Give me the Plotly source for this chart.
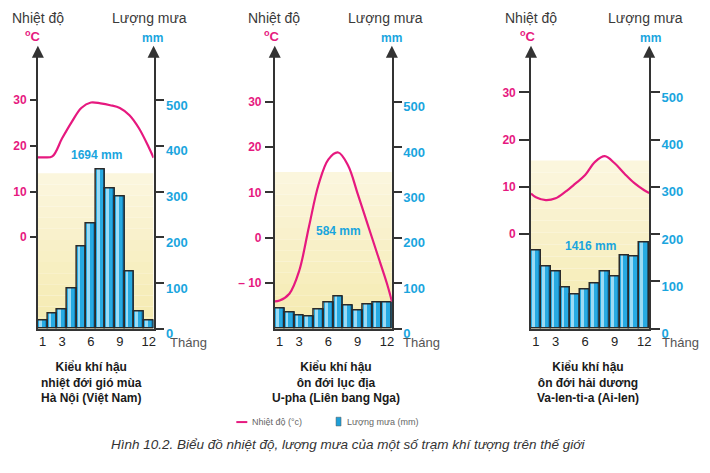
import plotly.graph_objects as go

# Months (bars) and the points
months = list(range(1, 13))
temp_months = [0.5] + months + [12.5]
month_ticks = [1, 3, 6, 9, 12]

# Ha Noi (Viet Nam)
hanoi_rain = [18, 33, 43, 87, 180, 231, 349, 306, 290, 125, 38, 18]
hanoi_temp = [17.5, 17.5, 17.7, 21.6, 25.2, 28.3, 29.5, 29.3, 28.9, 28.3, 26.7, 23.8, 19.7, 17.4]

# U-pha (Lien bang Nga)
ufa_rain = [44, 35, 29, 28, 42, 58, 70, 51, 41, 54, 58, 58]
ufa_temp = [-14.0, -13.8, -12.3, -7.3, 2.4, 11.8, 17.3, 18.8, 16.0, 9.7, 3.1, -3.5, -10.1, -14.0]

# Va-len-ti-a (Ai-len)
valentia_rain = [166, 132, 121, 87, 73, 84, 95, 121, 111, 156, 152, 183]
valentia_temp = [8.6, 7.8, 7.2, 7.6, 9.0, 10.7, 12.5, 15.3, 16.5, 15.0, 12.8, 10.8, 9.3, 8.7]

totals = ["1694 mm", "584 mm", "1416 mm"]
captions = [
    "Kiểu khí hậu<br>nhiệt đới gió mùa<br>Hà Nội (Việt Nam)",
    "Kiểu khí hậu<br>ôn đới lục địa<br>U-pha (Liên bang Nga)",
    "Kiểu khí hậu<br>ôn đới hải dương<br>Va-len-ti-a (Ai-len)",
]
rain_ticks = [0, 100, 200, 300, 400, 500]
temp_ticks = [[0, 10, 20, 30], [-10, 0, 10, 20, 30], [0, 10, 20, 30]]
temp_ticktext = [["0", "10", "20", "30"], ["– 10", "0", "10", "20", "30"], ["0", "10", "20", "30"]]

W, H = 710, 473
MAGENTA = "#e6197f"
CYAN = "#1aa5de"
AXIS = "#333333"
FONT = "Liberation Sans"

def px(x):
    return x / W

def py(y):
    return 1 - y / H

# pixel geometry of the three panels
panels = [
    dict(x0=38, x1=154, scale=0.470, shade=340, total=(6.6, 381), cap=92,
         lt=6, rt=9, title_l=38, title_r=150, deg=33, mm=153, thang=168),
    dict(x0=275.5, x1=393, scale=0.467, shade=345, total=(7.05, 216), cap=337,
         lt=8, rt=8, title_l=275, title_r=387, deg=273, mm=393, thang=402),
    dict(x0=532.5, x1=651, scale=0.486, shade=356, total=(6.5, 174), cap=590,
         lt=10, rt=9, title_l=533, title_r=647, deg=529, mm=652, thang=662),
]
rains = [hanoi_rain, ufa_rain, valentia_rain]
temps = [hanoi_temp, ufa_temp, valentia_temp]

Y_BOTTOM, Y_TOP = 338, 56
ydom = [py(Y_BOTTOM), py(Y_TOP)]

fig = go.Figure()
layout = dict(
    width=W, height=H, margin=dict(l=0, r=0, t=0, b=0),
    paper_bgcolor="white", plot_bgcolor="rgba(0,0,0,0)",
    showlegend=False, barmode="overlay", bargap=0,
    font=dict(family=FONT, color="#333"),
)
shapes = []
annotations = []

for i, p in enumerate(panels):
    n = i + 1
    xname = "x" if n == 1 else f"x{n}"
    rain_ax = 2 * n - 1
    temp_ax = 2 * n
    ry = "y" if rain_ax == 1 else f"y{rain_ax}"
    ty = f"y{temp_ax}"
    top_mm = (Y_BOTTOM - Y_TOP) / p["scale"]
    top_c = (top_mm - 200) / 10

    layout["xaxis" if n == 1 else f"xaxis{n}"] = dict(
        domain=[px(p["x0"]), px(p["x1"])], range=[0.5, 12.5], anchor=ry,
        tickvals=month_ticks, ticks="", showgrid=False, zeroline=False,
        showline=True, linecolor=AXIS, linewidth=1.5, ticklabelstandoff=0,
        tickfont=dict(size=13, color="#222"), fixedrange=True,
    )
    layout["yaxis" if rain_ax == 1 else f"yaxis{rain_ax}"] = dict(
        domain=ydom, range=[0, top_mm], anchor=xname, side="right",
        tickvals=rain_ticks, ticks="outside", ticklen=p["rt"], tickwidth=1.5,
        tickcolor=AXIS, showline=True, linecolor=AXIS, linewidth=1.6,
        showgrid=False, zeroline=False, ticklabelshift=5, ticklabelstandoff=-1,
        tickfont=dict(size=13, color=CYAN, weight="bold"),
    )
    layout[f"yaxis{temp_ax}"] = dict(
        domain=ydom, range=[-20, top_c], anchor=xname, overlaying=ry, side="left",
        tickvals=temp_ticks[i], ticktext=temp_ticktext[i], ticks="outside",
        ticklen=p["lt"], tickwidth=1.5, tickcolor=AXIS, showline=True,
        linecolor=AXIS, linewidth=1.6, showgrid=False, zeroline=False,
        ticklabelstandoff=1, tickfont=dict(size=12, color=MAGENTA, weight="bold"),
    )

    # pale yellow background, drawn as stripes to fake the gradient
    nstripes = 14
    c_top = (251, 246, 221)
    c_bot = (245, 234, 176)
    for k in range(nstripes):
        f = k / (nstripes - 1)
        col = tuple(round(c_top[j] + (c_bot[j] - c_top[j]) * f) for j in range(3))
        y1 = p["shade"] * (1 - k / nstripes)
        y0 = p["shade"] * (1 - (k + 1) / nstripes)
        shapes.append(dict(type="rect", xref=xname, yref=ry, x0=0.5, x1=12.5,
                           y0=y0, y1=y1, layer="below", line_width=0,
                           fillcolor="rgb(%d,%d,%d)" % col))

    rain = rains[i]
    # bar body, light and dark strips, then the outline on top
    fig.add_trace(go.Bar(x=months, y=rain, xaxis=xname, yaxis=ry, width=1,
                         marker=dict(color="#27aae2", line_width=0)))
    fig.add_trace(go.Bar(x=months, y=rain, xaxis=xname, yaxis=ry, width=0.28,
                         offset=-0.4, marker=dict(color="#9bdbf5", line_width=0)))
    fig.add_trace(go.Bar(x=months, y=rain, xaxis=xname, yaxis=ry, width=0.2,
                         offset=0.28, marker=dict(color="#158bc6", line_width=0)))
    fig.add_trace(go.Bar(x=months, y=rain, xaxis=xname, yaxis=ry, width=1,
                         marker=dict(color="rgba(0,0,0,0)",
                                     line=dict(color="#2a2a2a", width=1.5))))
    # temperature curve
    fig.add_trace(go.Scatter(x=temp_months, y=temps[i], xaxis=xname, yaxis=ty,
                             mode="lines", line=dict(color=MAGENTA, width=2.2, shape="spline"),
                             cliponaxis=False))

    # arrow heads on the two vertical axes
    for ax_x in (p["x0"], p["x1"]):
        annotations.append(dict(x=px(ax_x), y=py(47), xref="paper", yref="paper",
                                text="", showarrow=True, ax=0, ay=12, arrowhead=2,
                                arrowsize=1.6, arrowwidth=1.5, arrowcolor=AXIS))
    # headings
    annotations += [
        dict(x=px(p["title_l"]), y=py(18), text="Nhiệt độ", font=dict(size=14, color="#3a3a3a")),
        dict(x=px(p["title_r"]), y=py(18), text="Lượng mưa", font=dict(size=14, color="#3a3a3a")),
        dict(x=px(p["deg"]), y=py(37), text="<sup>o</sup>C",
             font=dict(size=13, color=MAGENTA, weight="bold")),
        dict(x=px(p["mm"]), y=py(39), text="mm", font=dict(size=12, color=CYAN, weight="bold")),
        dict(x=px(p["thang"]), y=py(352), text="Tháng", xanchor="left",
             font=dict(size=13, color="#555")),
        dict(x=px(p["cap"]), y=py(393), text=captions[i],
             font=dict(size=12, color="#1a1a1a", weight="bold")),
        dict(x=p["total"][0], y=p["total"][1], xref=xname, yref=ry, text=totals[i],
             font=dict(size=12, color=CYAN, weight="bold")),
    ]

for a in annotations:
    a.setdefault("xref", "paper")
    a.setdefault("yref", "paper")
    a.setdefault("showarrow", False)
    a.setdefault("xanchor", "center")
    a.setdefault("yanchor", "middle")

# small legend under the panels
shapes.append(dict(type="line", xref="paper", yref="paper", x0=px(237), x1=px(248),
                   y0=py(434), y1=py(434), line=dict(color=MAGENTA, width=2)))
shapes.append(dict(type="rect", xref="paper", yref="paper", x0=px(337), x1=px(342),
                   y0=py(438), y1=py(429), fillcolor="#1e9fd8", line=dict(color="#555", width=0.5)))
annotations += [
    dict(x=px(251), y=py(434), xref="paper", yref="paper", showarrow=False, xanchor="left",
         yanchor="middle", text="Nhiệt độ (°c)", font=dict(size=9, color="#666")),
    dict(x=px(346), y=py(434), xref="paper", yref="paper", showarrow=False, xanchor="left",
         yanchor="middle", text="Lượng mưa (mm)", font=dict(size=9, color="#666")),
    dict(x=px(349), y=py(457), xref="paper", yref="paper", showarrow=False,
         xanchor="center", yanchor="middle",
         text="<i>Hình 10.2. Biểu đồ nhiệt độ, lượng mưa của một số trạm khí tượng trên thế giới</i>",
         font=dict(size=13.5, color="#333")),
]

layout["shapes"] = shapes
layout["annotations"] = annotations
fig.update_layout(**layout)
# the page body has a default 8px margin; drop it so the figure fills the window
fig.write_html("out.html", config={"displayModeBar": False},
               post_script="document.body.style.margin = '0';")
